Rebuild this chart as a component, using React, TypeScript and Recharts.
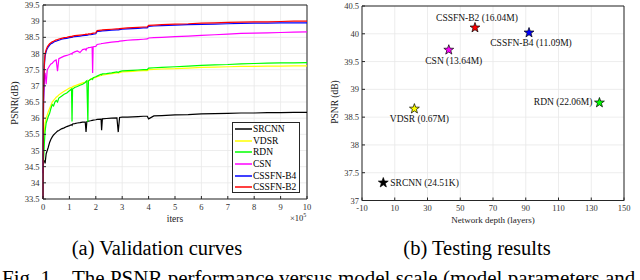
import React from 'react';
import {
  LineChart, Line, XAxis, YAxis, CartesianGrid, ReferenceLine, Legend,
  ScatterChart, Scatter,
} from 'recharts';

// ---------- (a) Validation curves ----------
const iters = [
  0, 0.02, 0.05, 0.08, 0.12, 0.16, 0.2, 0.25, 0.3, 0.35, 0.4, 0.45, 0.5, 0.55, 0.6, 0.7, 0.8, 0.9,
  1.0, 1.08, 1.1, 1.12, 1.2, 1.3, 1.4, 1.5, 1.6, 1.63, 1.66, 1.7, 1.72, 1.8, 1.86, 1.88, 1.9,
  2.0, 2.05, 2.2, 2.22, 2.25, 2.4, 2.6, 2.8, 2.85, 2.9, 3.0, 3.2, 3.4, 3.6, 3.8, 3.95, 4.0,
  4.2, 4.5, 5.0, 5.5, 6.0, 6.5, 7.0, 7.5, 8.0, 8.5, 9.0, 9.5, 10.0,
];

const srcnnCurve = [
  null, null, 34.7, 34.6, 34.9, 35.0, 35.1, 35.25, 35.35, 35.42, 35.48, 35.52, 35.56, 35.6, 35.62, 35.67, 35.7, 35.74,
  35.77, 35.8, 35.78, 35.82, 35.83, 35.85, 35.86, 35.88, 35.88, 35.57, 35.89, 35.9, 35.91, 35.92, 35.93, 35.93, 35.94,
  35.95, 35.96, 35.97, 35.63, 35.98, 35.99, 36.0, 36.01, 35.57, 36.02, 36.03, 36.03, 36.04, 36.05, 36.06, 36.06, 35.98,
  36.07, 36.08, 36.1, 36.11, 36.13, 36.14, 36.15, 36.16, 36.16, 36.17, 36.17, 36.18, 36.18,
];

const vdsrCurve = [
  35.1, 35.3, 35.6, 35.85, 36.0, 36.1, 36.2, 36.3, 36.4, 36.5, 36.55, 36.6, 36.65, 36.68, 36.72, 36.78, 36.83, 36.88,
  36.93, 36.95, 36.94, 36.97, 37.0, 37.03, 37.06, 37.09, 37.12, 37.13, 37.14, 37.15, 37.16, 37.2, 37.22, 37.22, 37.24,
  37.26, 37.28, 37.32, 37.33, 37.33, 37.35, 37.38, 37.4, 37.4, 37.41, 37.43, 37.44, 37.45, 37.46, 37.47, 37.47, 37.5,
  37.51, 37.52, 37.53, 37.55, 37.57, 37.58, 37.59, 37.6, 37.6, 37.61, 37.61, 37.62, 37.62,
];

const rdnCurve = [
  34.9, 34.65, 35.2, 35.6, 35.85, 35.95, 36.05, 36.15, 36.3, 36.42, 36.38, 36.5, 36.55, 36.5, 36.62, 36.68, 36.74, 36.78,
  36.85, 36.9, 35.9, 36.9, 36.95, 36.98, 37.02, 37.05, 37.1, 37.14, 37.16, 35.88, 37.15, 37.2, 37.22, 37.2, 37.25,
  37.28, 37.3, 37.36, 37.34, 37.37, 37.38, 37.4, 37.43, 37.41, 37.44, 37.46, 37.47, 37.48, 37.49, 37.5, 37.5, 37.55,
  37.56, 37.57, 37.59, 37.61, 37.63, 37.65, 37.66, 37.68, 37.69, 37.7, 37.71, 37.71, 37.72,
];

const csnCurve = [
  34.3, 36.5, 37.2, 37.4, 37.05, 37.5, 37.55, 37.62, 37.68, 37.7, 37.75, 37.78, 37.8, 37.45, 37.84, 37.88, 37.92, 37.94,
  37.97, 38.0, 37.98, 38.02, 38.05, 38.08, 38.03, 38.12, 38.14, 38.1, 38.16, 38.17, 38.18, 38.19, 38.2, 37.4, 38.21,
  38.22, 38.28, 38.3, 38.31, 38.31, 38.33, 38.35, 38.37, 38.37, 38.38, 38.39, 38.41, 38.42, 38.43, 38.44, 38.45, 38.48,
  38.49, 38.5, 38.52, 38.54, 38.56, 38.58, 38.6, 38.62, 38.63, 38.64, 38.65, 38.66, 38.67,
];

const b4Curve = [
  33.5, 36.5, 37.6, 37.93, 38.06, 38.15, 38.2, 38.26, 38.3, 38.32, 38.35, 38.37, 38.38, 38.4, 38.41, 38.44, 38.46, 38.47,
  38.49, 38.5, 38.5, 38.51, 38.52, 38.53, 38.54, 38.55, 38.56, 38.56, 38.57, 38.57, 38.58, 38.58, 38.59, 38.59, 38.6,
  38.61, 38.68, 38.69, 38.7, 38.7, 38.71, 38.72, 38.73, 38.73, 38.74, 38.75, 38.76, 38.77, 38.78, 38.79, 38.79, 38.84,
  38.85, 38.86, 38.88, 38.89, 38.9, 38.91, 38.92, 38.93, 38.94, 38.94, 38.95, 38.95, 38.95,
];

const b2Curve = [
  33.5, 36.8, 37.7, 38.0, 38.12, 38.2, 38.25, 38.3, 38.33, 38.36, 38.38, 38.4, 38.42, 38.43, 38.45, 38.47, 38.49, 38.5,
  38.52, 38.53, 38.52, 38.54, 38.55, 38.56, 38.57, 38.58, 38.59, 38.6, 38.59, 38.6, 38.61, 38.61, 38.62, 38.62, 38.63,
  38.64, 38.71, 38.72, 38.72, 38.73, 38.74, 38.75, 38.76, 38.76, 38.77, 38.78, 38.79, 38.8, 38.81, 38.82, 38.82, 38.87,
  38.88, 38.89, 38.91, 38.92, 38.94, 38.95, 38.96, 38.97, 38.98, 38.98, 38.99, 39.0, 39.0,
];

const curveNames = ['SRCNN', 'VDSR', 'RDN', 'CSN', 'CSSFN-B4', 'CSSFN-B2'];
const curveValues = [srcnnCurve, vdsrCurve, rdnCurve, csnCurve, b4Curve, b2Curve];

const itersTicks = [0, 1, 2, 3, 4, 5, 6, 7, 8, 9, 10];
const psnrCurveTicks = [33.5, 34, 34.5, 35, 35.5, 36, 36.5, 37, 37.5, 38, 38.5, 39, 39.5];

// ---------- (b) Testing results ----------
const methods = ['SRCNN', 'VDSR', 'CSN', 'CSSFN-B2', 'CSSFN-B4', 'RDN'];
const depths = [3, 22, 43, 59, 92, 135];
const testPsnr = [37.32, 38.65, 39.71, 40.11, 40.02, 38.76];
const paramLabels = ['24.51K', '0.67M', '13.64M', '16.04M', '11.09M', '22.06M'];

const depthTicks = [-10, 10, 30, 50, 70, 90, 110, 130, 150];
const psnrTestTicks = [37, 37.5, 38, 38.5, 39, 39.5, 40, 40.5];

// ---------- styles ----------
const colors: Record<string, string> = {
  SRCNN: '#000000',
  VDSR: '#ffff00',
  RDN: '#00ff00',
  CSN: '#ff00ff',
  'CSSFN-B4': '#0000ff',
  'CSSFN-B2': '#ff0000',
};

const labelPlacement: Record<string, { dx: number; dy: number; anchor: 'start' | 'middle' | 'end' }> = {
  SRCNN: { dx: 7, dy: 0, anchor: 'start' },
  VDSR: { dx: 5, dy: 10, anchor: 'middle' },
  CSN: { dx: 5, dy: 11.5, anchor: 'middle' },
  'CSSFN-B2': { dx: 2, dy: -10, anchor: 'middle' },
  'CSSFN-B4': { dx: 2, dy: 10.5, anchor: 'middle' },
  RDN: { dx: -7, dy: -0.5, anchor: 'end' },
};

const FONT = '"Liberation Serif", "DejaVu Serif", serif';
const AXIS = '#262626';
const GRID = '#e8e8e8';

const curveTable = iters.map((x, i) => {
  const row: Record<string, number | null> = { x };
  curveNames.forEach((n, k) => {
    row[n] = curveValues[k][i];
  });
  return row;
});

const testTable = methods.map((m, i) => ({
  name: m,
  depth: depths[i],
  psnr: testPsnr[i],
  params: paramLabels[i],
}));

function starPoints(cx: number, cy: number, R: number, r: number) {
  const pts: string[] = [];
  for (let k = 0; k < 10; k++) {
    const rad = k % 2 === 0 ? R : r;
    const a = -Math.PI / 2 + (k * Math.PI) / 5;
    pts.push(`${cx + rad * Math.cos(a)},${cy + rad * Math.sin(a)}`);
  }
  return pts.join(' ');
}

const StarShape = (props: any) => {
  const { cx, cy, payload } = props;
  if (cx == null || cy == null) return null;
  const name = payload.name as string;
  const place = labelPlacement[name];
  return (
    <g>
      <polygon
        points={starPoints(cx, cy, 5.2, 2.1)}
        fill={colors[name]}
        stroke="#000"
        strokeWidth={0.7}
      />
      <text
        x={cx + place.dx}
        y={cy + place.dy}
        textAnchor={place.anchor}
        dominantBaseline="central"
        fontSize={9.5}
        fontFamily={FONT}
        fill="#111"
      >
        {`${name} (${payload.params})`}
      </text>
    </g>
  );
};

const renderLegend = () => (
  <div
    style={{
      border: `1px solid ${AXIS}`,
      background: '#fff',
      width: 68,
      height: 71,
      boxSizing: 'border-box',
      fontFamily: FONT,
      fontSize: 9.5,
      color: '#000',
    }}
  >
    {curveNames.map((n) => (
      <div key={n} style={{ display: 'flex', alignItems: 'center', height: 11.7, whiteSpace: 'nowrap' }}>
        <svg width={20} height={4} style={{ display: 'block', flex: 'none' }}>
          <line x1={2} y1={2} x2={19} y2={2} stroke={colors[n]} strokeWidth={1.5} />
        </svg>
        <span>{n}</span>
      </div>
    ))}
  </div>
);

const tickStyle = { fontSize: 8.5, fill: '#333', fontFamily: FONT };

export default function App() {
  return (
    <div
      style={{
        position: 'absolute',
        left: 0,
        top: 0,
        width: 640,
        height: 280,
        overflow: 'hidden',
        background: '#fff',
        fontFamily: FONT,
      }}
    >
      <div style={{ position: 'absolute', left: 0, top: 0 }}>
        <LineChart width={320} height={230} data={curveTable} margin={{ top: 5, right: 13, bottom: 0, left: 0 }}>
          <CartesianGrid stroke={GRID} strokeWidth={0.8} />
          <XAxis
            dataKey="x"
            type="number"
            domain={[0, 10]}
            ticks={itersTicks}
            height={31}
            tick={tickStyle}
            tickSize={-3}
            tickMargin={8}
            axisLine={{ stroke: AXIS }}
            tickLine={{ stroke: AXIS }}
            interval={0}
          />
          <YAxis
            type="number"
            domain={[33.5, 39.5]}
            ticks={psnrCurveTicks}
            width={43}
            tick={tickStyle}
            tickSize={-3}
            tickMargin={6.5}
            axisLine={{ stroke: AXIS }}
            tickLine={{ stroke: AXIS }}
            interval={0}
            allowDataOverflow
          />
          <ReferenceLine y={39.5} stroke={AXIS} ifOverflow="visible" />
          <ReferenceLine x={10} stroke={AXIS} ifOverflow="visible" />
          {curveNames.map((n) => (
            <Line
              key={n}
              dataKey={n}
              name={n}
              stroke={colors[n]}
              strokeWidth={1.2}
              dot={false}
              activeDot={false}
              isAnimationActive={false}
              type="linear"
            />
          ))}
          <Legend
            layout="vertical"
            align="center"
            verticalAlign="middle"
            content={renderLegend}
            wrapperStyle={{ left: 232, top: 122, width: 68, height: 71 }}
          />
        </LineChart>
      </div>

      <div style={{ position: 'absolute', left: 320, top: 0 }}>
        <ScatterChart width={320} height={230} margin={{ top: 6, right: 16, bottom: 0, left: 0 }}>
          <CartesianGrid stroke={GRID} strokeWidth={0.8} />
          <XAxis
            dataKey="depth"
            type="number"
            domain={[-10, 150]}
            ticks={depthTicks}
            height={29.5}
            tick={tickStyle}
            tickSize={-3}
            tickMargin={7.5}
            axisLine={{ stroke: AXIS }}
            tickLine={{ stroke: AXIS }}
            interval={0}
          />
          <YAxis
            dataKey="psnr"
            type="number"
            domain={[37, 40.5]}
            ticks={psnrTestTicks}
            width={42}
            tick={tickStyle}
            tickSize={-3}
            tickMargin={6}
            axisLine={{ stroke: AXIS }}
            tickLine={{ stroke: AXIS }}
            interval={0}
          />
          <ReferenceLine y={40.5} stroke={AXIS} ifOverflow="visible" />
          <ReferenceLine x={150} stroke={AXIS} ifOverflow="visible" />
          <Scatter data={testTable} shape={StarShape} isAnimationActive={false} />
        </ScatterChart>
      </div>

      <svg
        width={640}
        height={280}
        style={{ position: 'absolute', left: 0, top: 0, pointerEvents: 'none' }}
        fontFamily={FONT}
      >
        <text x={14} y={103} transform="rotate(-90 14 103)" textAnchor="middle" dominantBaseline="central" fontSize={10} fill="#222">
          PSNR(dB)
        </text>
        <text x={175} y={219} textAnchor="middle" dominantBaseline="central" fontSize={9.5} fill="#222">
          iters
        </text>
        <text x={290} y={220.5} fontSize={8.5} fill="#222">
          ×10<tspan dy={-4} fontSize={6}>5</tspan>
        </text>
        <text x={335} y={102} transform="rotate(-90 335 102)" textAnchor="middle" dominantBaseline="central" fontSize={9.5} fill="#222">
          PSNR (dB)
        </text>
        <text x={493} y={220} textAnchor="middle" dominantBaseline="central" fontSize={9} fill="#222">
          Network depth (layers)
        </text>
        <text x={157} y={255} textAnchor="middle" fontSize={20.5} fill="#000">
          (a)  Validation curves
        </text>
        <text x={477} y={255} textAnchor="middle" fontSize={20.5} fill="#000">
          (b)  Testing results
        </text>
        <text x={2} y={284.5} fontSize={21} fill="#000">
          Fig. 1.
        </text>
        <text x={72} y={284.5} fontSize={21} fill="#000">
          The PSNR performance versus model scale (model parameters and
        </text>
      </svg>
    </div>
  );
}
